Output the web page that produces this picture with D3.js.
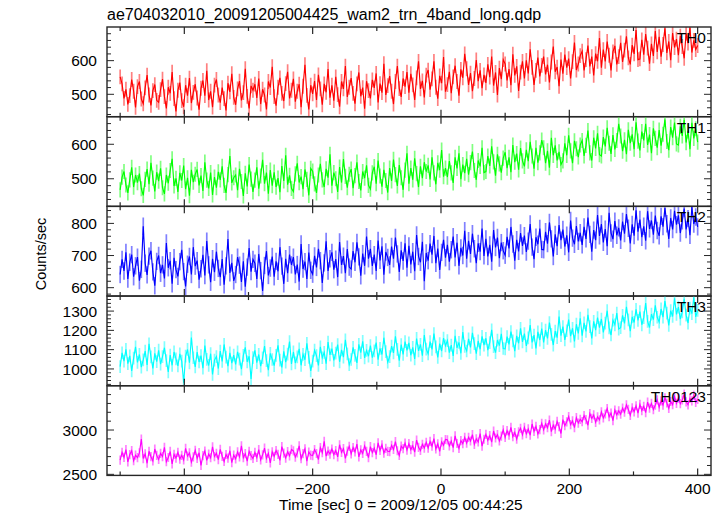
<!DOCTYPE html>
<html><head><meta charset="utf-8">
<script src="https://cdn.jsdelivr.net/npm/d3@7"></script>
<style>body{margin:0;background:#fff} text{font-family:"Liberation Sans",Arial,Helvetica,sans-serif;fill:#000}</style>
</head><body><svg id="c" width="724" height="516"></svg>
<script>
const title = "ae704032010_20091205004425_wam2_trn_4band_long.qdp";
const xLabel = "Time [sec] 0 = 2009/12/05 00:44:25";
const yLabel = "Counts/sec";
const bandNames = ["TH0", "TH1", "TH2", "TH3", "TH0123"];
const bandColors = ["#ff0000", "#00ff00", "#0000ff", "#00ffff", "#ff00ff"];
const errColors = ["#ff8080", "#80ff80", "#8080ff", "#80ffff", "#ff80ff"];
const binStart = -500, binSize = 3;

const th0 = [
552,531,488,515,470,496,544,509,461,523,
538,486,472,519,557,498,467,511,529,482,
476,514,545,493,458,521,503,566,487,449,
512,535,481,463,527,496,548,474,506,530,
489,454,518,541,496,570,483,509,462,527,
544,498,475,520,487,452,533,507,561,491,
469,516,539,482,505,576,494,458,525,512,
530,489,547,471,515,498,455,538,520,582,
493,466,521,549,503,480,532,567,488,512,
546,478,509,530,462,524,588,497,455,527,
501,539,483,558,516,469,531,506,575,490,
527,481,552,499,463,538,516,584,492,521,
548,503,472,531,565,494,520,457,539,511,
488,543,519,562,476,532,505,591,498,526,
554,509,471,538,584,517,492,547,523,566,
505,561,528,483,549,598,516,540,491,557,
572,514,546,598,521,487,555,533,611,508,
529,567,503,552,585,538,496,574,549,620,
576,528,563,509,547,602,539,571,518,558,
534,589,551,612,526,565,498,578,545,603,
590,541,575,527,619,556,583,510,566,598,
547,601,562,634,580,528,571,609,553,586,
612,559,588,535,596,642,567,581,524,603,
561,618,579,606,547,597,654,572,590,615,
628,571,603,645,583,612,556,621,598,667,
579,633,598,657,616,571,626,644,589,612,
653,596,631,672,608,589,646,620,691,603,
605,662,618,679,637,591,650,614,688,626,
671,612,648,696,623,657,601,682,639,664,
616,673,642,607,681,652,698,624,660,633,
645];

const th1 = [
468,505,521,482,459,497,533,476,511,489,
515,471,452,498,528,484,546,502,463,519,
493,530,474,456,511,487,524,558,479,501,
462,517,495,538,470,503,451,526,490,513,
527,481,509,465,548,496,472,518,453,505,
474,520,497,536,481,459,512,566,488,503,
511,467,529,492,450,516,478,541,499,462,
496,533,471,508,555,486,518,457,525,480,
519,476,502,461,537,494,568,483,510,472,
463,514,545,489,506,470,527,498,452,530,
522,485,459,511,543,497,476,529,503,571,
480,518,500,462,534,489,557,507,474,513,
528,473,509,548,492,466,521,502,539,481,
470,517,535,486,553,508,477,526,495,460,
531,494,556,512,479,540,503,468,525,574,
486,531,497,559,515,476,536,502,548,521,
539,498,562,517,484,546,525,583,506,531,
505,551,517,488,562,530,574,499,541,516,
558,512,547,579,524,497,553,536,590,518,
521,566,537,594,549,509,571,543,518,560,
577,531,562,519,598,548,573,526,589,552,
536,584,551,607,566,529,590,547,575,612,
590,545,581,532,619,568,597,553,578,541,
552,603,568,626,581,545,610,587,563,598,
611,566,597,640,575,553,619,588,632,570,
566,621,594,648,603,572,627,585,611,659,
624,580,613,571,642,603,629,586,664,609,
582,637,611,659,598,628,574,646,617,590,
641,596,629,672,608,583,650,619,663,601,
598,652,624,671,605,639,586,662,617,645,
606];

const th2 = [
641,688,652,710,627,679,703,634,668,695,
622,657,791,676,640,698,715,649,606,682,
700,645,671,629,739,662,684,612,693,656,
635,681,718,650,604,673,697,641,726,667,
684,625,659,702,638,745,671,617,690,648,
712,660,633,689,609,668,751,646,677,621,
641,695,670,618,682,603,664,723,650,688,
676,627,705,653,590,669,714,638,661,697,
634,682,651,726,667,612,690,645,703,671,
695,641,672,619,736,658,681,627,709,654,
642,699,663,721,684,615,677,744,652,690,
710,656,689,633,742,671,698,645,720,664,
658,714,679,741,696,637,706,668,759,690,
721,668,703,652,747,685,729,640,711,694,
671,728,690,756,705,649,716,683,738,662,
730,672,712,651,764,697,679,743,620,708,
684,737,703,761,676,722,655,710,749,693,
733,681,718,759,694,740,668,724,700,777,
690,746,705,768,721,676,738,712,784,699,
752,697,733,681,779,725,756,692,740,715,
701,758,722,789,736,684,749,713,770,730,
762,711,745,798,726,689,757,735,784,719,
718,774,737,803,752,697,766,729,795,748,
781,728,763,710,809,754,735,792,744,771,
733,789,752,818,766,712,779,748,826,761,
798,741,782,729,833,770,751,807,763,786,
747,806,768,829,785,738,797,762,841,774,
812,757,791,746,838,783,809,765,824,778,
761,822,790,848,799,752,817,781,839,796,
825,770,808,846,781,815,763,851,798,820,
789];

const th3 = [
1012,1083,1041,1102,1027,1068,990,1056,1115,1034,
1075,1009,1047,1093,1021,1130,1062,1003,1081,1038,
1097,1025,1064,1110,1043,985,1072,1019,1088,1052,
1016,1078,1040,929,1066,1101,1032,1163,1058,1011,
1087,1036,1069,1004,1121,1050,1018,1079,972,1046,
1064,1002,1093,1039,1127,1061,1015,1084,1030,1072,
1023,1089,1051,999,1070,1112,1037,1066,948,1059,
1096,1033,1075,1014,1058,1119,1043,994,1081,1049,
1017,1070,1122,1046,1008,1091,1035,1077,1142,1026,
1088,1031,1063,1104,1019,1076,1048,1133,1060,990,
1041,1097,1069,1018,1115,1058,1086,1027,1139,1073,
1105,1044,1082,1126,1037,1099,1061,1151,1078,1022,
1049,1112,1070,1031,1128,1084,1143,1057,1096,1066,
1121,1059,1094,1137,1048,1107,1075,1162,1090,1035,
1064,1118,1083,1169,1101,1043,1126,1075,1142,1096,
1135,1071,1112,1052,1158,1094,1127,1069,1176,1103,
1078,1142,1101,1183,1115,1060,1131,1093,1160,1120,
1147,1085,1124,1068,1172,1109,1138,1081,1191,1117,
1093,1156,1112,1187,1131,1079,1145,1102,1169,1124,
1159,1098,1137,1203,1116,1085,1150,1121,1182,1106,
1104,1168,1127,1194,1145,1092,1172,1133,1210,1140,
1183,1119,1161,1227,1138,1175,1106,1192,1150,1209,
1137,1201,1158,1240,1179,1124,1196,1162,1271,1173,
1219,1151,1198,1256,1170,1211,1143,1232,1184,1263,
1172,1239,1195,1281,1220,1158,1247,1201,1266,1214,
1259,1190,1238,1302,1213,1176,1253,1229,1290,1207,
1214,1278,1236,1322,1255,1196,1270,1241,1309,1252,
1297,1229,1266,1341,1247,1215,1284,1256,1330,1268,
1243,1311,1269,1352,1290,1226,1302,1272,1366,1283,
1321,1258,1296,1363,1279,1238,1315,1287,1372,1270,
1304];

const th0123 = [
2661,2748,2692,2779,2640,2723,2767,2654,2716,2689,
2742,2897,2678,2731,2625,2760,2699,2652,2786,2714,
2668,2737,2701,2804,2643,2690,2758,2619,2725,2683,
2749,2672,2715,2663,2792,2706,2741,2637,2698,2771,
2680,2744,2601,2712,2763,2658,2729,2687,2810,2701,
2738,2667,2781,2702,2645,2724,2683,2766,2631,2718,
2675,2753,2697,2822,2688,2734,2649,2760,2711,2679,
2747,2690,2779,2663,2720,2795,2681,2737,2629,2754,
2702,2768,2726,2658,2813,2739,2684,2757,2709,2781,
2764,2695,2741,2821,2676,2733,2788,2648,2752,2717,
2712,2779,2735,2668,2801,2744,2872,2706,2763,2729,
2786,2721,2769,2698,2834,2747,2790,2680,2762,2815,
2731,2803,2752,2840,2697,2776,2735,2821,2758,2689,
2812,2745,2798,2721,2856,2770,2834,2739,2793,2760,
2757,2827,2781,2869,2766,2713,2818,2790,2851,2774,
2846,2779,2823,2751,2887,2805,2769,2839,2796,2862,
2797,2871,2819,2904,2786,2845,2758,2866,2828,2893,
2889,2821,2875,2802,2934,2848,2793,2880,2847,2916,
2852,2918,2876,2947,2838,2901,2865,2960,2819,2896,
2951,2884,2937,2863,2989,2910,2948,2876,2931,3002,
2918,2993,2941,3031,2925,2972,2897,2980,3019,2946,
3029,2958,3012,2941,3068,2985,3041,2956,3004,3076,
3002,3071,3026,3112,2983,3055,3010,3097,3039,2961,
3118,3049,3093,3152,3061,3104,3027,3139,3078,3121,
3094,3163,3118,3054,3186,3131,3170,3087,3149,3115,
3205,3136,3181,3243,3150,3192,3107,3226,3171,3217,
3178,3247,3201,3285,3232,3166,3251,3206,3274,3190,
3289,3220,3268,3196,3315,3247,3301,3231,3282,3341,
3258,3330,3281,3364,3305,3245,3322,3286,3377,3300,
3361,3297,3340,3404,3318,3285,3357,3329,3391,3312,
3346];

const series = [th0, th1, th2, th3, th0123];
const errors = [22, 22, 27, 33, 52];
const yTickLabels = [[500, 600], [500, 600], [600, 700, 800], [1000, 1100, 1200, 1300], [2500, 3000]];
const xTickLabels = [-400, -200, 0, 200, 400];

// layout
const left = 107, right = 711, top0 = 27, panelH = 89.68;
const yDomains = [[433.5, 700], [420, 680], [574, 853], [913, 1378], [2488, 3500]];
const minorStep = [20, 20, 20, 20, 100];
const majorStep = [100, 100, 100, 100, 500];

const svg = d3.select("#c");
const x = d3.scaleLinear().domain([-520.5, 420.8]).range([left, right]);
const fmt = d3.format("d");
const frameColor = "#262626";

series.forEach((vals, i) => {
  const top = top0 + i * panelH, bot = top + panelH;
  const y = d3.scaleLinear().domain(yDomains[i]).range([bot, top]);
  const g = svg.append("g");
  const cid = "clip" + i;
  svg.append("clipPath").attr("id", cid).append("rect")
    .attr("x", left).attr("y", top).attr("width", right - left).attr("height", panelH);
  const data = vals.map((v, k) => ({t: binStart + k * binSize, v}));
  const dg = g.append("g").attr("clip-path", `url(#${cid})`);
  dg.selectAll("line.err").data(data).join("line").attr("class", "err")
    .attr("x1", d => x(d.t)).attr("x2", d => x(d.t))
    .attr("y1", d => y(d.v - errors[i])).attr("y2", d => y(d.v + errors[i]))
    .attr("stroke", errColors[i]).attr("stroke-width", 1.7);
  dg.append("path").datum(data)
    .attr("d", d3.line().x(d => x(d.t)).y(d => y(d.v)))
    .attr("fill", "none").attr("stroke", bandColors[i]).attr("stroke-width", 1.15);

  const d0 = yDomains[i][0], d1 = yDomains[i][1];
  const yt = d3.range(Math.ceil(d0 / minorStep[i]) * minorStep[i], d1, minorStep[i]);
  yt.forEach(v => {
    const major = Math.abs(v % majorStep[i]) < 1e-6;
    const len = major ? 7 : 4;
    g.append("line").attr("x1", left).attr("x2", left + len).attr("y1", y(v)).attr("y2", y(v))
      .attr("stroke", frameColor).attr("stroke-width", 1);
    g.append("line").attr("x1", right - len).attr("x2", right).attr("y1", y(v)).attr("y2", y(v))
      .attr("stroke", frameColor).attr("stroke-width", 1);
  });
  yTickLabels[i].forEach(v => {
    g.append("text").attr("x", 97).attr("y", y(v)).attr("dy", "0.36em")
      .attr("text-anchor", "end").attr("font-size", 15.5).text(fmt(v));
  });
  d3.range(-500, 401, 100).forEach(t => {
    const major = t % 200 === 0;
    const len = major ? 7 : 4;
    g.append("line").attr("x1", x(t)).attr("x2", x(t)).attr("y1", top).attr("y2", top + len)
      .attr("stroke", frameColor).attr("stroke-width", 1.2);
    g.append("line").attr("x1", x(t)).attr("x2", x(t)).attr("y1", bot - len).attr("y2", bot)
      .attr("stroke", frameColor).attr("stroke-width", 1.2);
  });
  g.append("rect").attr("x", left).attr("y", top).attr("width", right - left).attr("height", panelH)
    .attr("fill", "none").attr("stroke", frameColor).attr("stroke-width", 1.4);
  g.append("text").attr("x", 706).attr("y", top + 16).attr("text-anchor", "end")
    .attr("font-size", 15.5).text(bandNames[i]);
});

const bottom = top0 + 5 * panelH;
xTickLabels.forEach(t => {
  svg.append("text").attr("x", x(t)).attr("y", bottom + 18.5).attr("text-anchor", "middle")
    .attr("font-size", 15.5).text(fmt(t));
});
svg.append("text").attr("x", 279).attr("y", 510).attr("text-anchor", "start")
  .attr("font-size", 15.5).text(xLabel);
svg.append("text").attr("transform", `translate(46,254) rotate(-90)`)
  .attr("text-anchor", "middle").attr("font-size", 14.5).text(yLabel);
svg.append("text").attr("x", left).attr("y", 20).attr("font-size", 16).text(title);
</script></body></html>
